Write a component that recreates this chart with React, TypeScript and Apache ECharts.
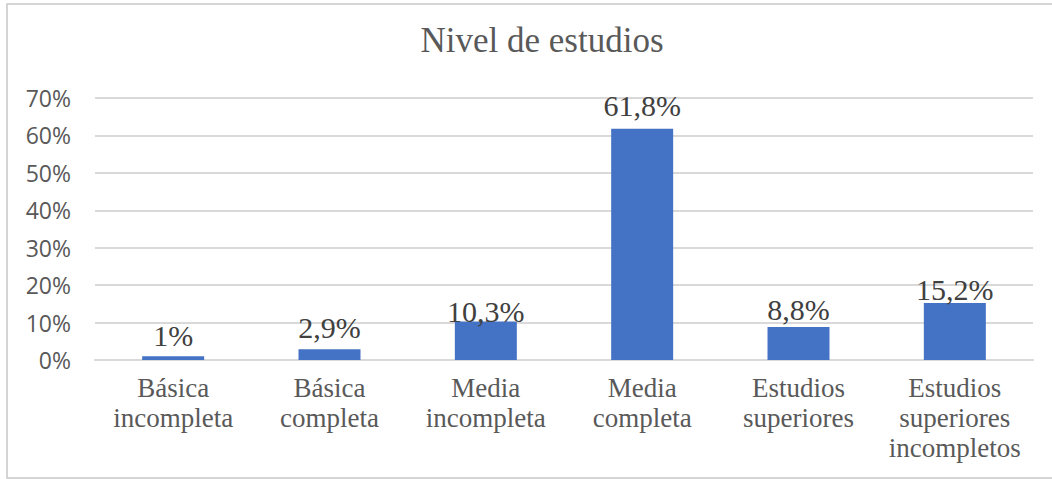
import React, { useEffect, useRef } from "react";
import * as echarts from "echarts";

const categories = [
  "Básica\nincompleta",
  "Básica\ncompleta",
  "Media\nincompleta",
  "Media\ncompleta",
  "Estudios\nsuperiores",
  "Estudios\nsuperiores\nincompletos",
];
const values = [1, 2.9, 10.3, 61.8, 8.8, 15.2];
const valueLabels = ["1%", "2,9%", "10,3%", "61,8%", "8,8%", "15,2%"];
const title = "Nivel de estudios";

// label gaps above each bar (style only)
const labelGap = [6, 7, -5, 8, 3, -1];

export default function App() {
  const ref = useRef<HTMLDivElement>(null);
  useEffect(() => {
    if (!ref.current) return;
    const chart = echarts.init(ref.current, undefined, { renderer: "svg" });
    chart.setOption({
      animation: false,
      backgroundColor: "#ffffff",
      title: {
        text: title,
        left: 537,
        textAlign: "center",
        top: 18,
        textStyle: {
          fontFamily: "'Liberation Serif', serif",
          fontSize: 35,
          fontWeight: "normal",
          color: "#595959",
        },
      },
      graphic: [
        {
          type: "rect",
          shape: { x: 7, y: 4, width: 1100, height: 474 },
          style: { fill: "none", stroke: "#c8c8c8", lineWidth: 1.5 },
          silent: true,
          z: -1,
        },
      ],
      grid: { left: 95, right: 19, top: 98, bottom: 119, containLabel: false },
      xAxis: {
        type: "category",
        data: categories,
        axisTick: { show: false },
        axisLine: { lineStyle: { color: "#d9d9d9", width: 2 } },
        axisLabel: {
          interval: 0,
          margin: 13,
          fontFamily: "'Liberation Serif', serif",
          fontSize: 27,
          lineHeight: 30,
          color: "#595959",
        },
      },
      yAxis: {
        type: "value",
        min: 0,
        max: 70,
        interval: 10,
        axisLine: { show: false },
        axisTick: { show: false },
        splitLine: { lineStyle: { color: "#d9d9d9", width: 2 } },
        axisLabel: {
          formatter: "{value}%",
          margin: 24,
          fontFamily: "'Open Sans', sans-serif",
          fontSize: 23,
          color: "#595959",
        },
      },
      series: [
        {
          type: "bar",
          data: values.map((v, i) => ({
            value: v,
            label: { distance: labelGap[i] },
          })),
          barWidth: 62,
          itemStyle: { color: "#4472C4" },
          label: {
            show: true,
            position: "top",
            formatter: (p: any) => valueLabels[p.dataIndex],
            fontFamily: "'Liberation Serif', serif",
            fontSize: 30,
            color: "#404040",
          },
        },
      ],
    });
    return () => chart.dispose();
  }, []);
  return (
    <div
      ref={ref}
      style={{ position: "absolute", left: 0, top: 0, width: 1052, height: 479 }}
    />
  );
}
